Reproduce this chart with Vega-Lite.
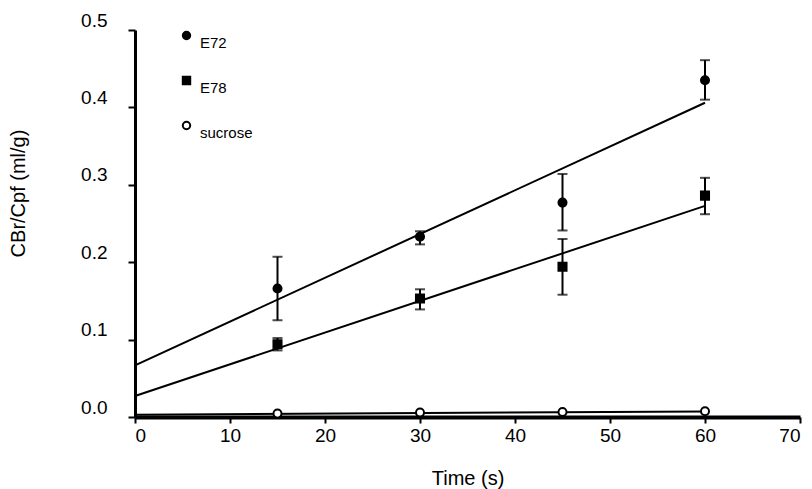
{
  "$schema": "https://vega.github.io/schema/vega-lite/v6.json",
  "width": 665,
  "height": 387,
  "autosize": "none",
  "padding": {"left": 135, "top": 30, "right": 12, "bottom": 72},
  "background": "white",
  "config": {
    "view": {"stroke": null},
    "font": "Liberation Sans",
    "axis": {"grid": false, "domainColor": "black", "tickColor": "black", "labelColor": "black", "titleColor": "black", "titleFontWeight": "normal", "labelFont": "Liberation Sans", "titleFont": "Liberation Sans"}
  },
  "datasets": {
    "points": [
      {"series": "E72", "time": 15, "value": 0.166, "lo": 0.125, "hi": 0.207},
      {"series": "E72", "time": 30, "value": 0.233, "lo": 0.223, "hi": 0.240},
      {"series": "E72", "time": 45, "value": 0.277, "lo": 0.241, "hi": 0.314},
      {"series": "E72", "time": 60, "value": 0.435, "lo": 0.410, "hi": 0.461},
      {"series": "E78", "time": 15, "value": 0.094, "lo": 0.086, "hi": 0.102},
      {"series": "E78", "time": 30, "value": 0.153, "lo": 0.139, "hi": 0.165},
      {"series": "E78", "time": 45, "value": 0.194, "lo": 0.158, "hi": 0.230},
      {"series": "E78", "time": 60, "value": 0.286, "lo": 0.262, "hi": 0.309},
      {"series": "sucrose", "time": 15, "value": 0.0044},
      {"series": "sucrose", "time": 30, "value": 0.0057},
      {"series": "sucrose", "time": 45, "value": 0.0065},
      {"series": "sucrose", "time": 60, "value": 0.0074}
    ],
    "fits": [
      {"series": "E72", "time": 0, "value": 0.0668},
      {"series": "E72", "time": 60, "value": 0.406},
      {"series": "E78", "time": 0, "value": 0.0272},
      {"series": "E78", "time": 60, "value": 0.2728},
      {"series": "sucrose", "time": 0, "value": 0.003},
      {"series": "sucrose", "time": 60, "value": 0.0072}
    ]
  },
  "layer": [
    {
      "data": {"name": "fits"},
      "mark": {"type": "line", "color": "black", "strokeWidth": 2},
      "encoding": {
        "x": {
          "field": "time", "type": "quantitative",
          "scale": {"domain": [0, 70], "nice": false},
          "axis": {
            "values": [0, 10, 20, 30, 40, 50, 60, 70],
            "title": "Time (s)",
            "domainWidth": 4, "tickWidth": 2, "tickSize": 6,
            "labelFontSize": 19, "labelPadding": 3,
            "titleFontSize": 20, "titleY": 61, "titleBaseline": "middle"
          }
        },
        "y": {
          "field": "value", "type": "quantitative",
          "scale": {"domain": [0, 0.5], "nice": false},
          "axis": {
            "values": [0, 0.1, 0.2, 0.3, 0.4, 0.5],
            "format": ".1f",
            "title": "CBr/Cpf (ml/g)",
            "domainWidth": 3, "tickWidth": 2, "tickSize": 7,
            "labelFontSize": 19, "labelPadding": 21, "labelOffset": -10,
            "titleFontSize": 20, "titleX": -117, "titleY": 163, "titleBaseline": "middle"
          }
        },
        "detail": {"field": "series"}
      }
    },
    {
      "data": {"name": "points"},
      "transform": [{"filter": "datum.lo != null"}],
      "mark": {"type": "rule", "color": "black", "strokeWidth": 2},
      "encoding": {
        "x": {"field": "time", "type": "quantitative"},
        "y": {"field": "lo", "type": "quantitative"},
        "y2": {"field": "hi"}
      }
    },
    {
      "data": {"name": "points"},
      "transform": [{"filter": "datum.lo != null"}],
      "mark": {"type": "tick", "orient": "horizontal", "size": 10, "thickness": 2, "color": "black"},
      "encoding": {
        "x": {"field": "time", "type": "quantitative"},
        "y": {"field": "lo", "type": "quantitative"}
      }
    },
    {
      "data": {"name": "points"},
      "transform": [{"filter": "datum.lo != null"}],
      "mark": {"type": "tick", "orient": "horizontal", "size": 10, "thickness": 2, "color": "black"},
      "encoding": {
        "x": {"field": "time", "type": "quantitative"},
        "y": {"field": "hi", "type": "quantitative"}
      }
    },
    {
      "data": {"name": "points"},
      "mark": {"type": "point", "stroke": "black", "strokeWidth": 2, "opacity": 1, "fillOpacity": 1, "size": 65},
      "encoding": {
        "x": {"field": "time", "type": "quantitative"},
        "y": {"field": "value", "type": "quantitative"},
        "shape": {
          "field": "series", "type": "nominal",
          "scale": {"domain": ["E72", "E78", "sucrose"], "range": ["circle", "square", "circle"]},
          "legend": {"orient": "none", "legendX": 44, "legendY": -2, "title": null, "padding": 0, "rowPadding": 21, "symbolSize": 55, "symbolStrokeWidth": 2, "labelFontSize": 15, "labelOffset": 6, "labelBaseline": "top", "labelColor": "black"}
        },
        "fill": {
          "field": "series", "type": "nominal",
          "scale": {"domain": ["E72", "E78", "sucrose"], "range": ["black", "black", "white"]},
          "legend": {"orient": "none", "legendX": 44, "legendY": -2, "title": null, "padding": 0, "rowPadding": 21, "symbolSize": 55, "symbolStrokeWidth": 2, "labelFontSize": 15, "labelOffset": 6, "labelBaseline": "top", "labelColor": "black"}
        }
      }
    }
  ]
}
